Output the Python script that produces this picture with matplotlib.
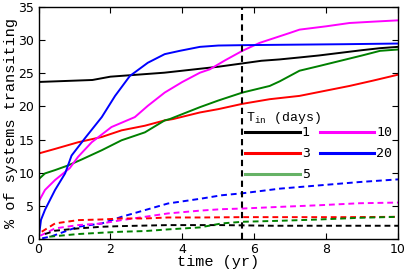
import matplotlib
matplotlib.use("Agg")
import matplotlib.pyplot as plt
from matplotlib.lines import Line2D

plt.rcParams['font.family'] = ['Liberation Mono', 'DejaVu Sans Mono']
plt.rcParams['mathtext.fontset'] = 'custom'
plt.rcParams['mathtext.rm'] = 'Liberation Mono'

# ---- solid curves (transiting fraction vs time) ----
black_x = [0, 0, 0.5, 1.0, 1.5, 2.0, 2.5, 3.0, 3.5, 4.0, 4.5, 5.0, 5.67, 6.2, 6.7, 7.26, 7.8, 8.4, 9.0, 9.5, 10]
black_y = [0, 23.7, 23.8, 23.9, 24.0, 24.5, 24.7, 24.9, 25.1, 25.4, 25.7, 26.0, 26.5, 26.9, 27.1, 27.4, 27.7, 28.1, 28.5, 28.8, 29.0]

red_x = [0, 0, 0.46, 1.1, 1.76, 2.31, 2.96, 3.51, 3.74, 4.49, 5.0, 5.67, 6.43, 7.26, 8.0, 8.65, 9.3, 10]
red_y = [0, 12.9, 13.6, 14.6, 15.4, 16.4, 17.1, 17.9, 18.1, 19.1, 19.6, 20.4, 21.1, 21.6, 22.4, 23.1, 23.9, 24.8]

green_x = [0, 0, 0.18, 0.46, 0.82, 1.2, 1.76, 2.31, 2.96, 3.51, 3.65, 4.49, 5.0, 5.67, 6.43, 6.71, 7.26, 7.8, 8.4, 9.0, 9.5, 10]
green_y = [0, 9.0, 9.9, 10.4, 11.1, 12.0, 13.4, 14.9, 16.1, 17.9, 18.1, 19.9, 20.9, 22.1, 23.1, 23.8, 25.4, 26.1, 26.9, 27.7, 28.4, 28.6]

magenta_x = [0, 0, 0.18, 0.46, 0.87, 1.1, 1.48, 2.03, 2.68, 3.04, 3.51, 4.0, 4.49, 4.76, 5.2, 5.67, 6.15, 6.99, 7.26, 8.0, 8.65, 9.3, 10]
magenta_y = [0, 5.6, 7.4, 8.9, 10.7, 12.4, 14.6, 16.9, 18.4, 20.1, 22.1, 23.7, 25.1, 25.6, 27.0, 28.4, 29.6, 31.1, 31.6, 32.1, 32.6, 32.8, 33.0]

blue_x = [0, 0.07, 0.18, 0.46, 0.74, 0.92, 1.29, 1.76, 2.13, 2.54, 3.04, 3.51, 3.93, 4.49, 5.0, 5.6, 6.5, 7.5, 8.5, 10]
blue_y = [0, 2.9, 4.4, 7.4, 9.9, 12.6, 15.2, 18.4, 21.6, 24.6, 26.6, 27.9, 28.4, 29.0, 29.2, 29.25, 29.3, 29.35, 29.4, 29.5]

# ---- dashed curves ----
blue_d_x = [0.1, 0.36, 1.1, 1.76, 2.31, 2.96, 3.6, 4.53, 5.09, 5.67, 6.71, 7.82, 8.93, 10]
blue_d_y = [0.1, 0.4, 1.85, 2.35, 3.35, 4.36, 5.36, 6.1, 6.6, 6.9, 7.6, 8.1, 8.6, 9.0]

magenta_d_x = [0.05, 0.46, 1.1, 1.76, 2.31, 2.96, 3.6, 4.53, 5.09, 5.67, 6.71, 7.82, 8.93, 10]
magenta_d_y = [0.5, 1.6, 2.1, 2.35, 2.85, 3.35, 3.86, 4.3, 4.5, 4.6, 4.85, 5.1, 5.4, 5.5]

red_d_x = [0.09, 0.46, 1.1, 1.76, 2.31, 2.96, 3.6, 4.53, 5.67, 7.0, 8.5, 10]
red_d_y = [1.1, 2.35, 2.85, 2.95, 3.1, 3.1, 3.25, 3.25, 3.3, 3.3, 3.3, 3.35]

black_d_x = [0.18, 0.46, 1.1, 1.76, 2.31, 3.6, 5.09, 6.5, 8.0, 10]
black_d_y = [0.75, 1.25, 1.6, 1.85, 1.95, 2.1, 2.1, 2.0, 2.0, 2.0]

green_d_x = [0.3, 1.1, 1.76, 2.31, 2.96, 3.6, 4.49, 5.09, 5.67, 6.71, 7.82, 8.93, 10]
green_d_y = [0.35, 0.75, 0.95, 1.1, 1.2, 1.45, 1.75, 2.35, 2.6, 2.75, 2.95, 3.2, 3.35]

t_mark = 5.67

legend_title = 'T$_{\\rm in}$ (days)'
legend_labels = ['1', '3', '5', '10', '20']
legend_colors = ['black', 'red', 'green', 'magenta', 'blue']

fig = plt.figure(figsize=(4.07, 2.73), dpi=100)
ax = fig.add_axes([0.0946, 0.1245, 0.978 - 0.0946, 0.974 - 0.1245])

lw = 1.4
ax.plot(black_x, black_y, color='black', lw=lw)
ax.plot(red_x, red_y, color='red', lw=lw)
ax.plot(green_x, green_y, color='green', lw=lw)
ax.plot(magenta_x, magenta_y, color='magenta', lw=lw)
ax.plot(blue_x, blue_y, color='blue', lw=lw)

dash = (0, (3, 2))
ax.plot(blue_d_x, blue_d_y, color='blue', lw=lw, linestyle=dash)
ax.plot(magenta_d_x, magenta_d_y, color='magenta', lw=lw, linestyle=dash)
ax.plot(red_d_x, red_d_y, color='red', lw=lw, linestyle=dash)
ax.plot(black_d_x, black_d_y, color='black', lw=lw, linestyle=dash)
ax.plot(green_d_x, green_d_y, color='green', lw=lw, linestyle=dash)

ax.axvline(t_mark, color='black', lw=1.5, linestyle=(0, (3, 2)))

ax.set_xlim(0, 10)
ax.set_ylim(0, 35)
ax.set_xticks([0, 2, 4, 6, 8, 10])
ax.set_yticks([0, 5, 10, 15, 20, 25, 30, 35])
ax.tick_params(direction='in', top=True, right=True, length=4, pad=3)
for lab in ax.get_xticklabels() + ax.get_yticklabels():
    lab.set_family('DejaVu Sans')
    lab.set_fontsize(9)
for s in ax.spines.values():
    s.set_linewidth(1.0)

ax.set_xlabel('time (yr)', fontsize=11, labelpad=-1)
ax.set_ylabel('% of systems transiting', fontsize=11)
ax.yaxis.set_label_coords(-0.056, 0.5)

# legend title drawn as text, entries as legend
fig.text(246 / 407, 1 - 117.5 / 273, legend_title, fontsize=9.5, va='center', ha='left')

handles = []
alphas = [1, 1, 0.6, 1, 1]
for c, lab, a in zip(legend_colors, legend_labels, alphas):
    handles.append(Line2D([], [], color=c, lw=2.2, alpha=a, label=lab))
leg = ax.legend(handles=handles, ncol=2, frameon=False,
                loc='upper left', bbox_to_anchor=(245 / 407, 1 - 126.5 / 273),
                bbox_transform=fig.transFigure,
                prop={'family': 'DejaVu Sans Mono', 'size': 9.5},
                handlelength=4.15, handletextpad=0.15,
                columnspacing=0.75, labelspacing=0.6, borderpad=0.0, borderaxespad=0)

fig.savefig('out.png', dpi=100)
